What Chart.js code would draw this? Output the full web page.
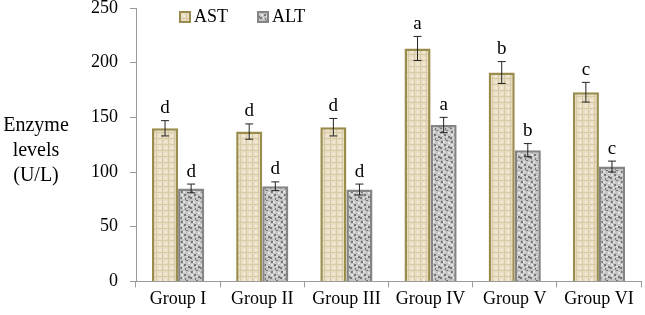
<!DOCTYPE html>
<html>
<head>
<meta charset="utf-8">
<script src="https://cdn.jsdelivr.net/npm/chart.js@4/dist/chart.umd.min.js"></script>
<style>
  html, body { margin: 0; padding: 0; background: #fff; }
  canvas { display: block; }
</style>
</head>
<body>
<canvas id="enzymes" width="645" height="315"></canvas>
<script>
const groups = ['Group I', 'Group II', 'Group III', 'Group IV', 'Group V', 'Group VI'];
const astValues = [140, 137, 141, 213, 191, 173];
const astErrors = [7, 7, 8, 11, 10, 9];
const astLetters = ['d', 'd', 'd', 'a', 'b', 'c'];
const altValues = [85, 87, 84, 143, 120, 105];
const altErrors = [4, 4, 5, 7, 6, 5];
const altLetters = ['d', 'd', 'd', 'a', 'b', 'c'];
const yTicks = [0, 50, 100, 150, 200, 250];

const FONT = "'Liberation Serif', 'Times New Roman', serif";

// small tiled textures so the bars look like the Excel pattern fills
function makePattern(size, draw) {
  const c = document.createElement('canvas');
  c.width = size; c.height = size;
  const g = c.getContext('2d');
  draw(g);
  return document.getElementById('enzymes').getContext('2d').createPattern(c, 'repeat');
}

const astFill = makePattern(6, (g) => {
  g.fillStyle = '#eadfc4';
  g.fillRect(0, 0, 6, 6);
  g.fillStyle = '#d8caa6';
  g.fillRect(0, 0, 6, 1);
  g.fillRect(0, 0, 1, 6);
  g.fillStyle = '#f3ecdb';
  g.fillRect(3, 3, 2, 2);
});

const altFill = makePattern(10, (g) => {
  g.fillStyle = '#c4c4c4';
  g.fillRect(0, 0, 10, 10);
  g.fillStyle = '#767676';
  [[1, 1, 2, 2], [6, 0, 2, 1], [4, 4, 2, 2], [8, 6, 2, 2], [0, 7, 2, 2], [5, 8, 1, 2]].forEach(([x, y, w, h]) => g.fillRect(x, y, w, h));
  g.fillStyle = '#e4e4e4';
  [[3, 1, 2, 2], [8, 2, 2, 2], [1, 4, 2, 2], [6, 6, 2, 1], [3, 7, 1, 2]].forEach(([x, y, w, h]) => g.fillRect(x, y, w, h));
});

const extrasPlugin = {
  id: 'extras',
  afterDatasetsDraw(chart) {
    const ctx = chart.ctx;
    const y = chart.scales.y;
    const errs = [astErrors, altErrors];
    const letters = [astLetters, altLetters];
    ctx.save();
    chart.data.datasets.forEach((ds, di) => {
      const meta = chart.getDatasetMeta(di);
      meta.data.forEach((bar, i) => {
        const v = ds.data[i];
        const top = y.getPixelForValue(v + errs[di][i]);
        const bot = y.getPixelForValue(v - errs[di][i]);
        ctx.strokeStyle = '#222';
        ctx.lineWidth = 1;
        ctx.beginPath();
        ctx.moveTo(bar.x, top); ctx.lineTo(bar.x, bot);
        ctx.moveTo(bar.x - 4, top); ctx.lineTo(bar.x + 4, top);
        ctx.moveTo(bar.x - 4, bot); ctx.lineTo(bar.x + 4, bot);
        ctx.stroke();
        ctx.fillStyle = '#000';
        ctx.font = `19px ${FONT}`;
        ctx.textAlign = 'center';
        ctx.textBaseline = 'bottom';
        ctx.fillText(letters[di][i], bar.x, top - 3);
      });
    });

    // legend inside the plot area
    ctx.font = `18px ${FONT}`;
    ctx.textAlign = 'left';
    ctx.textBaseline = 'middle';
    const items = [
      { x: 180, label: 'AST', fill: astFill, border: '#9a8c4c' },
      { x: 258, label: 'ALT', fill: altFill, border: '#858585' },
    ];
    items.forEach((it) => {
      ctx.fillStyle = it.fill;
      ctx.fillRect(it.x, 12, 10, 10);
      ctx.strokeStyle = it.border;
      ctx.lineWidth = 2;
      ctx.strokeRect(it.x, 12, 10, 10);
      ctx.fillStyle = '#000';
      ctx.fillText(it.label, it.x + 14, 17);
    });

    // horizontal y-axis title
    ctx.font = `20px ${FONT}`;
    ctx.textAlign = 'center';
    ['Enzyme', 'levels', '(U/L)'].forEach((t, i) => ctx.fillText(t, 36, 126 + i * 25));
    ctx.restore();
  },
};

new Chart(document.getElementById('enzymes'), {
  type: 'bar',
  data: {
    labels: groups,
    datasets: [
      { label: 'AST', data: astValues, backgroundColor: astFill, borderColor: '#9a8c4c', borderWidth: 2.5 },
      { label: 'ALT', data: altValues, backgroundColor: altFill, borderColor: '#858585', borderWidth: 2.5 },
    ],
  },
  options: {
    responsive: false,
    animation: false,
    layout: { padding: { left: 79, right: 4, top: 8, bottom: 4 } },
    datasets: { bar: { categoryPercentage: 0.62, barPercentage: 1 } },
    plugins: { legend: { display: false }, tooltip: { enabled: false } },
    scales: {
      x: {
        grid: { display: true, drawOnChartArea: false, offset: true, tickLength: 6, color: '#9a9a9a' },
        border: { color: '#9a9a9a' },
        ticks: { color: '#000', font: { family: FONT, size: 18 }, padding: 1 },
      },
      y: {
        min: 0,
        max: 250,
        afterBuildTicks(axis) { axis.ticks = yTicks.map((v) => ({ value: v })); },
        afterFit(axis) { axis.paddingTop = 0; },
        grid: { display: true, drawOnChartArea: false, tickLength: 6, color: '#9a9a9a' },
        border: { color: '#9a9a9a' },
        ticks: { color: '#000', font: { family: FONT, size: 18 }, padding: 12 },
      },
    },
  },
  plugins: [extrasPlugin],
});
</script>
</body>
</html>
